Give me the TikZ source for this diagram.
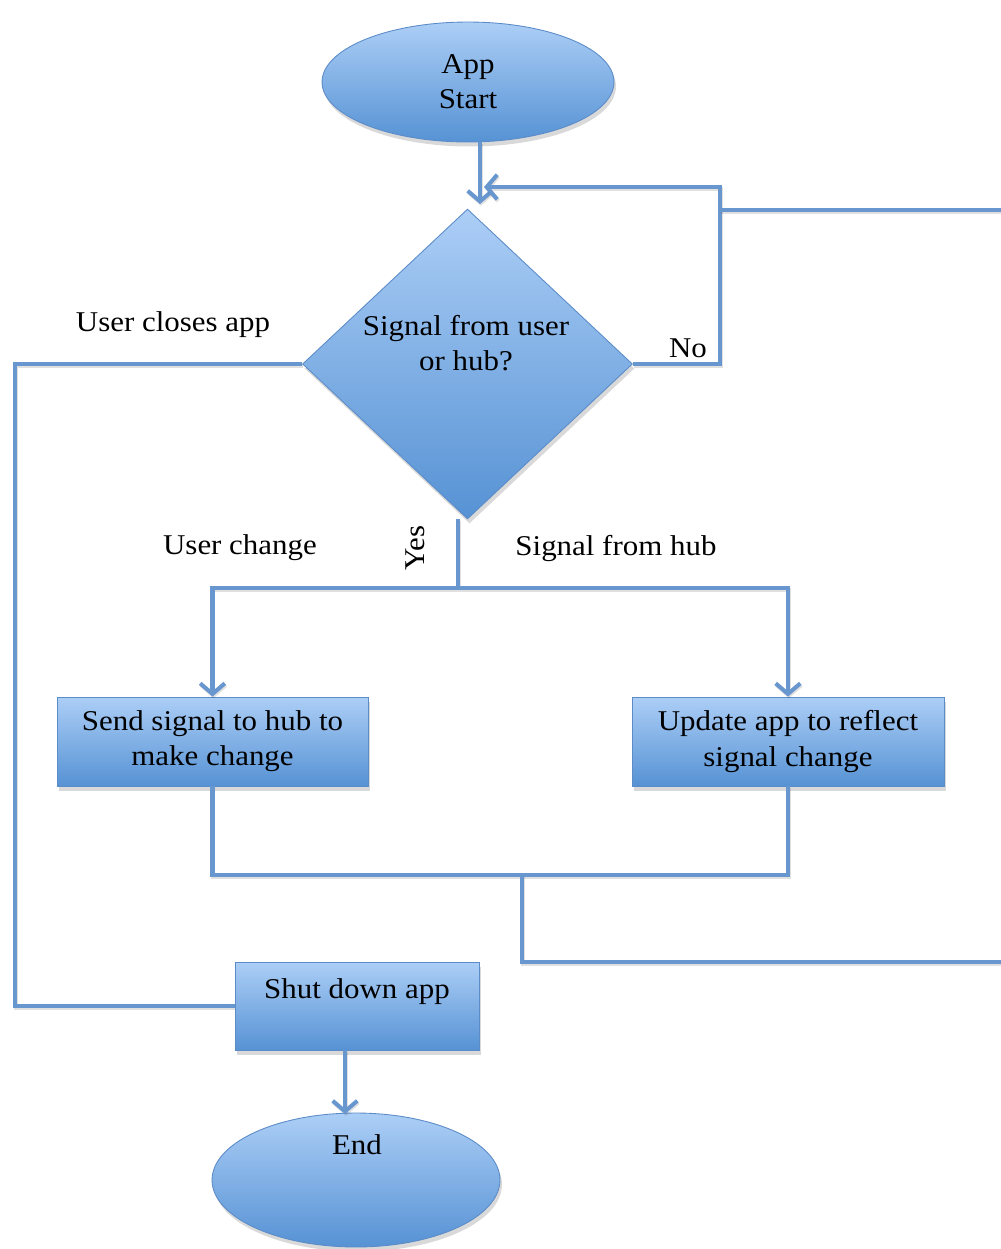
\documentclass[tikz,border=0pt]{standalone}
\usepackage{fontspec}
\setmainfont{Liberation Serif}[FakeStretch=1.08]
\usetikzlibrary{shapes.geometric,arrows.meta,shadows}
\definecolor{flowline}{RGB}{104,150,206}
\definecolor{filltop}{RGB}{172,206,246}
\definecolor{fillbot}{RGB}{86,146,212}
\definecolor{shapeedge}{RGB}{92,140,200}

\begin{document}
\begin{tikzpicture}[x=0.02cm,y=-0.02cm,
  font=\fontsize{16.3}{20}\selectfont,
  shaded/.style={top color=filltop,bottom color=fillbot,draw=shapeedge,line width=0.5pt,
    drop shadow={shadow xshift=0.4mm,shadow yshift=-0.9mm,opacity=0.3}},
  terminal/.style={shaded,ellipse,inner sep=0pt,align=center},
  decision/.style={shaded,diamond,inner sep=0pt},
  process/.style={shaded,rectangle,inner sep=0pt,align=center},
  txt/.style={align=center,inner sep=0pt},
  conn/.style={draw=flowline,line width=2.3pt,
    preaction={draw=black,opacity=0.12,line width=2.3pt,transform canvas={xshift=0.5pt,yshift=-1pt}}},
  arr/.style={conn,-{Straight Barb[length=6pt,width=14pt]}}
]
\useasboundingbox (0,0) rectangle (1001,1249);

% shapes
\node[terminal,minimum width=5.84cm,minimum height=2.4cm] (start) at (468,82) {App\\Start};
\node[decision,minimum width=6.6cm,minimum height=6.2cm] (dec) at (467.5,364) {};
\node[txt] (dtext) at (466,343) {Signal from user\\or hub?};
\node[process,minimum width=6.22cm,minimum height=1.78cm] (send) at (212.5,741.5) {Send signal to hub to\\make change};
\node[process,minimum width=6.24cm,minimum height=1.78cm] (upd) at (788,741.5) {Update app to reflect\\signal change};
\node[process,minimum width=4.88cm,minimum height=1.76cm] (shut) at (357,1006) {};
\node[txt] (shuttxt) at (357,992) {Shut down app};
\node[terminal,minimum width=5.76cm,minimum height=2.68cm] (end) at (356,1180) {};
\node[txt] (endtxt) at (357,1145) {End};

% labels
\node[txt] (lclose) at (173,325) {User closes app};
\node[txt] (lno) at (688,348) {No};
\node[txt] (luser) at (240,548) {User change};
\node[txt] (lhub) at (616,548) {Signal from hub};
\node[txt,rotate=90] (lyes) at (415,548) {Yes};

% junction points
\coordinate (din) at (480,204);
\coordinate (loopin) at (484,187);
\coordinate (nocorner) at (720,187);
\coordinate (rjoin) at (720,210);
\coordinate (redge) at (1001,210);
\coordinate (lcorner) at (15,364);
\coordinate (yj) at (458,588);
\coordinate (mj) at (522,875);
\coordinate (rb) at (1001,962);
\coordinate (endin) at (345,1114);

% connectors
\draw[arr] (start.south -| din) -- (din);
\draw[arr] (dec.east) -| (nocorner) -- (loopin);
\draw[conn] (rjoin) -- (redge);
\draw[conn] (dec.west) -- (dec.west -| lcorner) |- (shut.west);
\draw[conn] (dec.south -| yj) -- (yj);
\draw[arr] (yj) -| (send.north);
\draw[arr] (yj) -| (upd.north);
\draw[conn] (send.south) |- (mj) -| (upd.south);
\draw[conn] (mj) |- (rb);
\draw[arr] (shut.south -| endin) -- (endin);
\end{tikzpicture}
\end{document}
